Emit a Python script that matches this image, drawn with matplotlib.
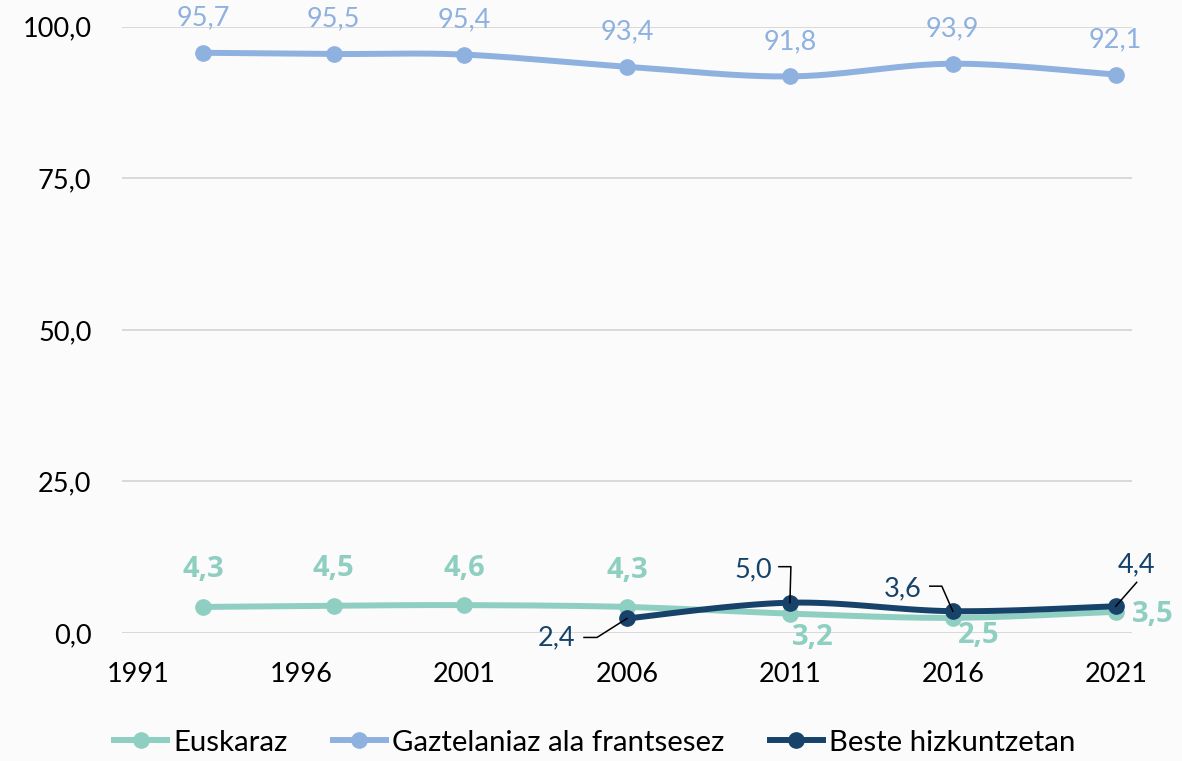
import numpy as np
import matplotlib.pyplot as plt
import matplotlib.transforms as mtransforms
from matplotlib.lines import Line2D
from matplotlib.ticker import FuncFormatter

plt.rcParams['font.family'] = ['Lato', 'DejaVu Sans']

# data
years = [1993, 1997, 2001, 2006, 2011, 2016, 2021]
euskaraz = [4.3, 4.5, 4.6, 4.3, 3.2, 2.5, 3.5]
gaztelaniaz = [95.7, 95.5, 95.4, 93.4, 91.8, 93.9, 92.1]
beste_years = [2006, 2011, 2016, 2021]
beste = [2.4, 5.0, 3.6, 4.4]
xticks = [1991, 1996, 2001, 2006, 2011, 2016, 2021]
names = ['Euskaraz', 'Gaztelaniaz ala frantsesez', 'Beste hizkuntzetan']

c_eus = '#8fcfc1'
c_gaz = '#8eb1e0'
c_bes = '#17436b'

FS = 19.5


def smooth(x, y, n=30):
    # excel-like smoothed line (catmull-rom as bezier)
    x = np.asarray(x, float)
    y = np.asarray(y, float)
    P = np.column_stack([x, y])
    out = [P[0]]
    t = np.linspace(0, 1, n)[1:, None]
    for i in range(len(P) - 1):
        p0 = P[i - 1] if i > 0 else P[i]
        p1 = P[i]
        p2 = P[i + 1]
        p3 = P[i + 2] if i + 2 < len(P) else P[i + 1]
        c1 = p1 + (p2 - p0) / 6
        c2 = p2 - (p3 - p1) / 6
        seg = ((1 - t) ** 3) * p1 + 3 * ((1 - t) ** 2) * t * c1 + 3 * (1 - t) * t ** 2 * c2 + t ** 3 * p2
        out.extend(seg)
    out = np.array(out)
    return out[:, 0], out[:, 1]


fig = plt.figure(figsize=(11.82, 7.61), dpi=100, facecolor='#fbfbfb')
ax = fig.add_axes([0.1032, 0.1682, 0.8545, 0.7967])
ax.set_facecolor('none')

ax.set_xlim(1990.5, 2021.5)
ax.set_ylim(0, 100)
ax.set_yticks([0, 25, 50, 75, 100])
ax.set_xticks(xticks)
ax.yaxis.set_major_formatter(FuncFormatter(lambda v, p: f'{v:.1f}'.replace('.', ',')))
ax.grid(axis='y', color='#d9d9d9', lw=1.4)
ax.set_axisbelow(True)
for s in ax.spines.values():
    s.set_visible(False)
ax.tick_params(length=0, labelsize=FS, colors='black')
ax.tick_params(axis='x', pad=21)
ax.tick_params(axis='y', pad=22)

lw = 4.3
ms = 11
for xs, ys, c, z in [(years, euskaraz, c_eus, 3), (years, gaztelaniaz, c_gaz, 3), (beste_years, beste, c_bes, 4)]:
    sx, sy = smooth(xs, ys)
    ax.plot(sx, sy, color=c, lw=lw, solid_capstyle='round', zorder=z, clip_on=False)
    ax.plot(xs, ys, 'o', color=c, ms=ms, zorder=z, clip_on=False)


def fmt(v):
    return f'{v:.1f}'.replace('.', ',')


# gaztelaniaz labels, above
for x, v in zip(years, gaztelaniaz):
    ax.annotate(fmt(v), (x, v), xytext=(0, 35), textcoords='offset pixels',
                ha='center', va='center', fontsize=FS, color=c_gaz)

# euskaraz labels (bold)
eus_off = [(0, 37), (0, 37), (0, 37), (0, 36), (23, -24), (26, -18), (37, -3)]
for x, v, (dx, dy) in zip(years, euskaraz, eus_off):
    ax.annotate(fmt(v), (x, v), xytext=(dx, dy), textcoords='offset pixels',
                ha='center', va='center', fontsize=21, color=c_eus, fontweight='bold',
                family=['Open Sans', 'DejaVu Sans'], zorder=6, annotation_clip=False)

# beste labels with leader lines (pixel offsets, y down)
bes_lab = [(-70, 19), (-37, -33), (-50, -22), (21, -42)]
bes_lead = [[(-43, 19), (-30, 19), (0, 0)],
            [(-11, -36), (1, -36), (0, 0)],
            [(-23, -25), (-11, -25), (0, 0)],
            [(21, -24), (0, 0)]]
fig.canvas.draw()
for x, v, (dx, dy), lead in zip(beste_years, beste, bes_lab, bes_lead):
    ax.annotate(fmt(v), (x, v), xytext=(dx, -dy), textcoords='offset pixels',
                ha='center', va='center', fontsize=FS, color=c_bes, zorder=6)
    px, py = ax.transData.transform((x, v))
    lx = [px + a for a, b in lead]
    ly = [py - b for a, b in lead]
    fig.add_artist(Line2D(lx, ly, color='black', lw=1.1, transform=mtransforms.IdentityTransform(), zorder=5))

handles = [Line2D([], [], color=c, lw=lw, marker='o', ms=ms) for c in (c_eus, c_gaz, c_bes)]
fig.legend(handles, names, loc='center', bbox_to_anchor=(0.503, 0.024), ncol=3, frameon=False,
           fontsize=21.2, handlelength=1.8, handletextpad=0.2, columnspacing=1.55)

fig.savefig('out.png', dpi=100, facecolor=fig.get_facecolor())
